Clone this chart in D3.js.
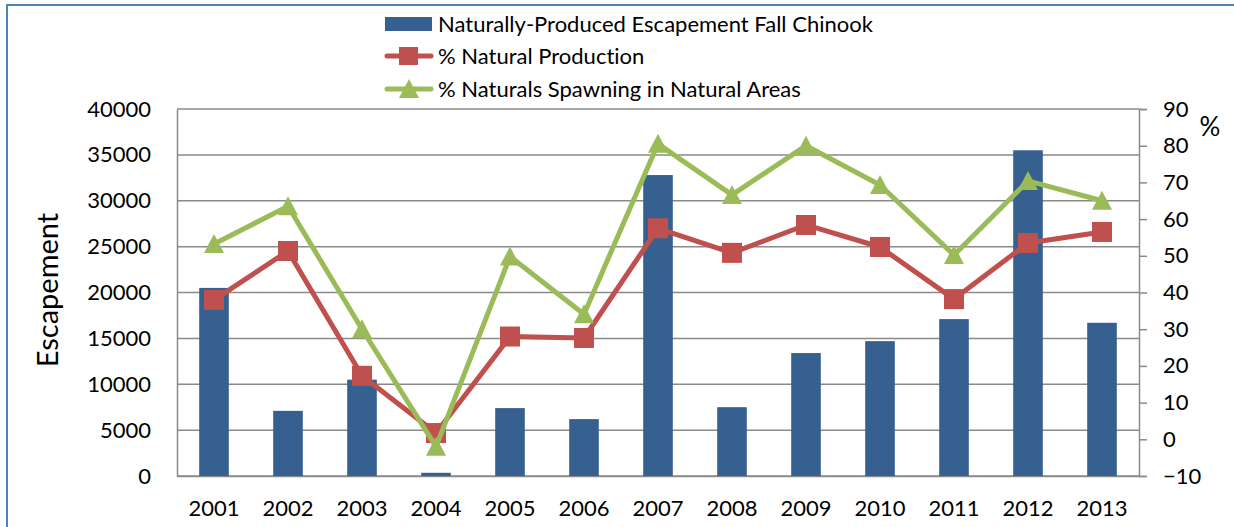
<!DOCTYPE html>
<html>
<head>
<meta charset="utf-8">
<script src="https://cdn.jsdelivr.net/npm/d3@7"></script>
<style>
  body { margin: 0; background: #fff; }
  svg { display: block; font-family: Lato, "Open Sans", sans-serif; font-variant-ligatures: none; }
</style>
</head>
<body>
<svg width="1234" height="527"></svg>
<script>
const years = ['2001', '2002', '2003', '2004', '2005', '2006', '2007',
  '2008', '2009', '2010', '2011', '2012', '2013'];
const escapement = [20500, 7100, 10500, 350, 7400, 6200, 32800,
  7500, 13400, 14700, 17100, 35500, 16700];
const pctNaturalProduction = [38, 51.3, 17.3, 1.7, 28, 27.6, 57.5,
  50.8, 58.4, 52.4, 38.2, 53.5, 56.5];
const pctSpawningNatural = [53.2, 63.5, 30, -2, 49.8, 34.1, 80.5,
  66.6, 80, 69.3, 50.2, 70.4, 65];
const leftTicks = [0, 5000, 10000, 15000, 20000, 25000, 30000, 35000, 40000];
const rightTicks = [-10, 0, 10, 20, 30, 40, 50, 60, 70, 80, 90];

const barColor = '#36608f';
const redColor = '#c0504d';
const greenColor = '#9bbb59';
const gridColor = '#8a8a8a';

const plot = { left: 177, right: 1139, top: 109, bottom: 476 };

const svg = d3.select('svg');

// outer frame (only top and left edges fall inside the picture)
svg.append('path')
    .attr('d', 'M7,540 L7,5 L1240,5')
    .attr('fill', 'none')
    .attr('stroke', '#4f81bd')
    .attr('stroke-width', 2);

const xScale = d3.scaleBand()
    .domain(years)
    .range([plot.left, plot.right])
    .paddingInner(0)
    .paddingOuter(0);
const yLeft = d3.scaleLinear()
    .domain([0, 40000])
    .range([plot.bottom, plot.top]);
const yRight = d3.scaleLinear()
    .domain([-10, 90])
    .range([plot.bottom, plot.top]);

// gridlines
svg.append('g')
    .attr('class', 'grid')
    .selectAll('line')
    .data(leftTicks)
    .join('line')
    .attr('x1', plot.left)
    .attr('x2', plot.right)
    .attr('y1', d => yLeft(d))
    .attr('y2', d => yLeft(d))
    .attr('stroke', gridColor)
    .attr('stroke-width', 1.5);

// left axis
const leftAxis = d3.axisLeft(yLeft)
    .tickValues(leftTicks)
    .tickSize(0)
    .tickPadding(26)
    .tickFormat(d3.format('d'));
svg.append('g')
    .attr('transform', `translate(${plot.left},0)`)
    .call(leftAxis)
    .call(g => g.select('.domain').attr('stroke', gridColor).attr('stroke-width', 1.5))
    .call(g => g.selectAll('text').attr('font-size', 22).attr('fill', '#000')
        .attr('font-family', 'Lato, sans-serif'));

// right axis
const rightAxis = d3.axisRight(yRight)
    .tickValues(rightTicks)
    .tickSize(8)
    .tickPadding(16);
svg.append('g')
    .attr('transform', `translate(${plot.right},0)`)
    .call(rightAxis)
    .call(g => g.select('.domain').attr('stroke', gridColor).attr('stroke-width', 1.5))
    .call(g => g.selectAll('.tick line').attr('stroke', gridColor).attr('stroke-width', 1.5))
    .call(g => g.selectAll('text').attr('font-size', 22).attr('fill', '#000')
        .attr('font-family', 'Lato, sans-serif'));

// bottom axis
const bottomAxis = d3.axisBottom(xScale)
    .tickSize(0)
    .tickPadding(24);
svg.append('g')
    .attr('transform', `translate(0,${plot.bottom})`)
    .call(bottomAxis)
    .call(g => g.select('.domain').attr('stroke', gridColor).attr('stroke-width', 1.5))
    .call(g => g.selectAll('text').attr('font-size', 22).attr('fill', '#000')
        .attr('font-family', 'Lato, sans-serif'));

// bars
const barWidth = xScale.bandwidth() * 0.4;
svg.append('g')
    .selectAll('rect')
    .data(escapement)
    .join('rect')
    .attr('x', (d, i) => xScale(years[i]) + (xScale.bandwidth() - barWidth) / 2)
    .attr('y', d => yLeft(d))
    .attr('width', barWidth)
    .attr('height', d => yLeft(0) - yLeft(d))
    .attr('fill', barColor);

const cx = i => xScale(years[i]) + xScale.bandwidth() / 2;
const line = d3.line()
    .x((d, i) => cx(i))
    .y(d => yRight(d));

// % natural production
svg.append('path')
    .attr('d', line(pctNaturalProduction))
    .attr('fill', 'none')
    .attr('stroke', redColor)
    .attr('stroke-width', 5)
    .attr('stroke-linejoin', 'round');
svg.append('g')
    .selectAll('rect')
    .data(pctNaturalProduction)
    .join('rect')
    .attr('x', (d, i) => cx(i) - 10)
    .attr('y', d => yRight(d) - 10)
    .attr('width', 20)
    .attr('height', 20)
    .attr('fill', redColor);

// % naturals spawning in natural areas
svg.append('path')
    .attr('d', line(pctSpawningNatural))
    .attr('fill', 'none')
    .attr('stroke', greenColor)
    .attr('stroke-width', 5)
    .attr('stroke-linejoin', 'round');
const triangle = 'M0,-10 L10,9 L-10,9 Z';
svg.append('g')
    .selectAll('path')
    .data(pctSpawningNatural)
    .join('path')
    .attr('transform', (d, i) => `translate(${cx(i)},${yRight(d)})`)
    .attr('d', triangle)
    .attr('fill', greenColor);

// axis titles
svg.append('text')
    .attr('transform', 'translate(58,290) rotate(-90)')
    .attr('text-anchor', 'middle')
    .attr('font-size', 29)
    .text('Escapement');
svg.append('text')
    .attr('x', 1210)
    .attr('y', 136)
    .attr('text-anchor', 'middle')
    .attr('font-size', 26)
    .text('%');

// legend
const legend = svg.append('g');
const legendX = 385;
const legendItems = [
  { label: 'Naturally-Produced Escapement Fall Chinook', type: 'bar', y: 24 },
  { label: '% Natural Production', type: 'square', y: 56 },
  { label: '% Naturals Spawning in Natural Areas', type: 'triangle', y: 89 }
];
legendItems.forEach(item => {
  if (item.type === 'bar') {
    legend.append('rect')
        .attr('x', legendX)
        .attr('y', item.y - 7)
        .attr('width', 47)
        .attr('height', 14)
        .attr('fill', barColor);
  } else {
    const color = item.type === 'square' ? redColor : greenColor;
    legend.append('line')
        .attr('x1', legendX + 2)
        .attr('x2', legendX + 46)
        .attr('y1', item.y)
        .attr('y2', item.y)
        .attr('stroke', color)
        .attr('stroke-width', 5)
        .attr('stroke-linecap', 'round');
    if (item.type === 'square') {
      legend.append('rect')
          .attr('x', legendX + 14)
          .attr('y', item.y - 9)
          .attr('width', 19)
          .attr('height', 18)
          .attr('fill', color);
    } else {
      legend.append('path')
          .attr('transform', `translate(${legendX + 24},${item.y})`)
          .attr('d', triangle)
          .attr('fill', color);
    }
  }
  legend.append('text')
      .attr('x', legendX + 53)
      .attr('y', item.y)
      .attr('dy', '0.35em')
      .attr('font-size', 22)
      .text(item.label);
});
</script>
</body>
</html>
